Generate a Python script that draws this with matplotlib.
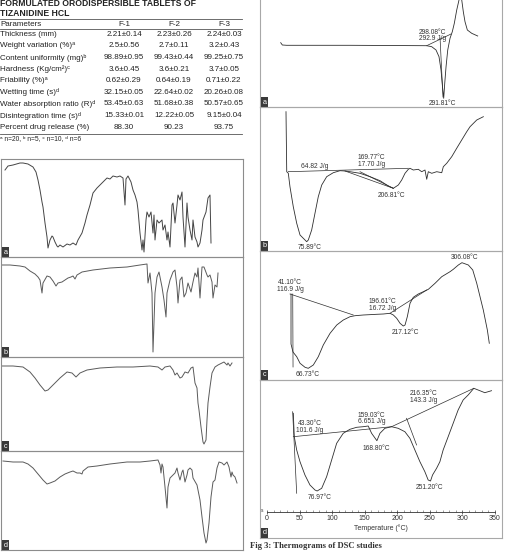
import matplotlib.pyplot as plt
from matplotlib.lines import Line2D

plt.rcParams["font.family"] = ["Liberation Sans", "DejaVu Sans"]

W, H = 505, 552

# ---------------- table data ----------------
table_title = ["FORMULATED ORODISPERSIBLE TABLETS OF", "TIZANIDINE HCL"]
columns = ["Parameters", "F-1", "F-2", "F-3"]
parameters = [
    "Thickness (mm)",
    "Weight variation (%)ᵃ",
    "Content uniformity (mg)ᵇ",
    "Hardness (Kg/cm²)ᶜ",
    "Friability (%)ᵃ",
    "Wetting time (s)ᵈ",
    "Water absorption ratio (R)ᵈ",
    "Disintegration time (s)ᵈ",
    "Percent drug release (%)",
]
f1 = ["2.21±0.14", "2.5±0.56", "98.89±0.95", "3.6±0.45", "0.62±0.29",
      "32.15±0.05", "53.45±0.63", "15.33±0.01", "88.30"]
f2 = ["2.23±0.26", "2.7±0.11", "99.43±0.44", "3.6±0.21", "0.64±0.19",
      "22.64±0.02", "51.68±0.38", "12.22±0.05", "90.23"]
f3 = ["2.24±0.03", "3.2±0.43", "99.25±0.75", "3.7±0.05", "0.71±0.22",
      "20.26±0.08", "50.57±0.65", "9.15±0.04", "93.75"]
footnote = "ᵃ n=20, ᵇ n=5, ᶜ n=10, ᵈ n=6"

# ---------------- IR spectra (position, transmittance, arbitrary units) ----------------
ir_a_x = [5, 8, 13, 20, 23, 28, 33, 36, 38, 40, 42, 43, 45, 47, 48, 50, 52, 53, 55, 57, 58, 60, 63,
          67, 70, 73, 76, 78, 82, 85, 87, 90, 93, 97, 100, 103, 107, 110, 113, 117, 120, 123, 125,
          126, 128, 131, 133, 135, 137, 138, 140, 142, 143, 144, 146, 147, 149, 151, 153, 154, 155,
          157, 159, 162, 163, 165, 167, 168, 170, 172, 173, 175, 177, 178, 180, 182, 183, 185, 187,
          188, 190, 192, 193, 195, 197, 198, 200, 202, 203, 206, 208, 210, 211]
ir_a_t = [87, 91, 92, 94, 94, 93, 90, 85, 77, 67, 55, 50, 34, 20, 9, 17, 21, 20, 15, 11, 10, 12, 10,
          13, 12, 14, 12, 17, 24, 34, 42, 52, 64, 69, 72, 75, 79, 78, 81, 80, 81, 79, 52,
          78, 81, 75, 67, 62, 55, 47, 24, 7, 17, 5, 37, 45, 40, 45, 24, 42, 17,
          37, 34, 37, 27, 32, 17, 25, 10, 52, 54, 34, 52, 62, 57, 65, 40, 10, 54,
          40, 27, 17, 37, 20, 15, 10, 14, 27, 37, 45, 59, 62, 14]

ir_b_x = [2, 10, 20, 25, 30, 35, 38, 40, 42, 43, 47, 50, 53, 56, 58, 62, 65, 68, 71, 73, 75, 77, 82,
          93, 110, 127, 140, 147, 148, 150, 152, 153, 155, 157, 159, 162, 164, 166, 167, 170, 173,
          175, 177, 178, 180, 182, 184, 186, 188, 191, 193, 195, 197, 198, 200, 202, 204, 207, 208,
          210, 212, 213, 215, 217, 218]
ir_b_t = [92, 92, 91, 90, 86, 83, 80, 77, 64, 74, 81, 80, 76, 71, 74, 75, 77, 79, 80, 81, 78, 82, 85,
          87, 89, 90, 92, 93, 74, 84, 64, 5, 64, 80, 85, 70, 57, 40, 64, 77, 85,
          87, 70, 54, 77, 80, 60, 64, 74, 65, 75, 84, 80, 89, 59, 90, 90, 82, 80,
          82, 75, 59, 72, 70, 84]

ir_c_x = [2, 13, 23, 30, 35, 40, 45, 48, 53, 60, 67, 72, 76, 80, 87, 100, 117, 133, 150, 158, 162,
          165, 170, 173, 175, 177, 180, 182, 185, 188, 191, 193, 194, 195, 197, 198, 199, 201, 203,
          204, 206, 207, 208, 210, 212, 215, 218, 222, 224, 227, 228, 230, 232]
ir_c_t = [85, 85, 84, 79, 73, 66, 60, 61, 66, 73, 79, 78, 74, 78, 81, 83, 84, 84, 85, 84, 81,
          84, 85, 81, 76, 78, 73, 74, 79, 78, 83, 84, 76, 68, 63, 48, 41, 24, 9,
          7, 11, 31, 48, 64, 78, 84, 86, 88, 89, 86, 88, 85, 88]

ir_d_x = [3, 13, 23, 28, 33, 38, 43, 47, 50, 55, 60, 65, 70, 73, 77, 80, 82, 83, 88, 97, 110, 127,
          140, 150, 158, 160, 161, 162, 163, 165, 167, 168, 170, 173, 175, 177, 178, 180, 182, 183,
          185, 187, 188, 190, 192, 193, 197, 200, 202, 204, 206, 207, 209, 211, 213, 215, 217, 219,
          222, 224, 227, 229, 231, 232, 233, 235, 237]
ir_d_t = [89, 88, 88, 86, 82, 76, 70, 66, 67, 69, 73, 76, 78, 79, 77, 77, 76, 79, 83, 84, 86, 88,
          88, 89, 90, 85, 77, 86, 83, 63, 42, 63, 72, 75, 77, 82, 77, 70, 78, 80,
          68, 75, 80, 82, 80, 72, 65, 50, 33, 17, 7, 10, 27, 53, 68, 70, 82, 88,
          87, 85, 88, 83, 73, 78, 75, 73, 67]

# ---------------- DSC thermograms (temperature in degC, heat flow a.u.) ----------------
dsc_a_temp = [41.6, 44.1, 50.8, 148.0, 265.7, 273.4, 280.0, 284.6, 287.7, 289.7, 291.8, 293.4,
              295.4, 298.0, 301.5, 305.0, 308.1, 311.8, 315.3, 317.4, 319.5, 321.9, 324.5, 328.1,
              334.8, 344.0]
dsc_a_heat = [64.3, 62.0, 61.7, 61.7, 61.3, 60.3, 57.0, 50.3, 37.0, 22.0, 8.7, 23.7,
              40.3, 57.0, 68.7, 75.3, 83.7, 97.0, 107.0, 114.0, 107.0, 95.3, 85.3, 77.0,
              73.7, 71.0]

dsc_b_temp = [44.6, 45.7, 48.1, 50.6, 55.6, 60.8, 65.8, 75.9, 78.3, 83.4, 88.4, 93.4, 98.6, 106.1,
              116.1, 126.2, 133.8, 141.3, 156.5, 171.6, 186.7, 199.2, 206.8, 214.4, 219.5, 224.5,
              229.5, 232.0, 237.0, 244.6, 249.7, 254.7, 257.3, 259.7, 264.9, 272.4, 280.0, 282.4,
              287.5, 295.1, 302.6, 310.2, 317.8, 322.8, 332.9, 342.9]
dsc_b_heat = [139.3, 79.3, 77.7, 64.3, 44.3, 27.7, 16.0, 9.3, 11.0, 21.0, 37.7, 54.3, 66.0, 74.3,
              78.3, 80.3, 80.0, 79.3, 77.7, 74.3, 70.3, 65.0, 62.7, 66.0, 71.0, 77.7,
              81.7, 82.7, 81.0, 81.7, 79.3, 81.0, 71.7, 79.3, 77.7, 79.3, 78.3, 84.3,
              87.7, 94.3, 102.7, 111.0, 119.3, 124.3, 131.0, 134.3]

dsc_c_temp = [39.4, 39.4, 42.5, 48.4, 53.7, 61.6, 66.7, 74.7, 82.6, 90.5, 101.2, 111.8, 122.2,
              132.8, 140.7, 153.9, 175.1, 185.5, 196.1, 201.4, 206.7, 212.0, 217.1, 219.9, 223.5,
              227.8, 233.0, 240.9, 248.9, 256.8, 267.4, 278.0, 291.1, 296.3, 304.3, 310.0, 320.1,
              327.1, 333.4, 343.8, 350.2, 353.3]
dsc_c_heat = [86.0, 36.0, 28.0, 23.3, 16.7, 12.7, 11.7, 15.0, 23.3, 35.0, 46.7, 55.0, 60.0,
              63.3, 64.3, 65.0, 65.7, 66.0, 66.7, 65.0, 61.7, 56.7, 54.0, 55.0, 63.3,
              76.7, 82.7, 86.0, 88.3, 90.7, 96.7, 103.3, 108.3, 110.7, 115.0, 117.3, 115.0,
              110.0, 96.7, 70.0, 50.0, 36.7]

dsc_d_temp = [40.4, 41.9, 45.6, 50.7, 58.3, 66.0, 73.7, 77.0, 84.0, 91.6, 99.3, 107.0, 117.1,
              127.4, 137.7, 147.8, 155.5, 160.7, 168.8, 173.5, 181.1, 191.4, 201.5, 211.8, 219.5,
              227.2, 234.9, 242.5, 247.6, 251.2, 254.3, 260.5, 265.6, 270.6, 278.3, 286.0, 293.6,
              301.3, 309.0, 317.7, 327.0, 334.6, 344.9]
dsc_d_heat = [126.7, 103.3, 90.0, 78.3, 65.0, 55.0, 50.0, 49.0, 51.7, 63.3, 80.0, 96.7, 106.7,
              110.7, 112.7, 113.3, 114.0, 106.7, 99.3, 106.7, 111.7, 113.3, 111.7, 108.3, 101.7,
              90.0, 78.3, 68.3, 60.0, 59.0, 65.0, 71.7, 78.3, 90.0, 103.3, 116.7, 130.0,
              140.0, 145.0, 151.7, 149.3, 147.3, 149.3]

# construction (baseline / tangent) lines: (temps, heats)
dsc_a_lines = [((265.7, 303.0), (61.3, 73.0)), ((286.2, 290.7), (69.0, 10.0))]
dsc_b_lines = [((48.1, 229.5), (79.3, 82.7)), ((133.8, 206.8), (80.0, 62.7)),
               ((156.5, 206.8), (79.3, 62.7))]
dsc_c_lines = [((37.8, 138.0), (86.0, 65.0)), ((42.1, 42.6), (86.0, 13.0)),
               ((196.1, 254.2), (66.7, 90.0))]
dsc_d_lines = [((40.4, 191.4), (103.3, 113.3)), ((191.4, 317.7), (113.3, 151.7)),
               ((39.4, 45.6), (128.3, 46.7)), ((214.4, 229.8), (121.7, 95.0))]

# annotations: (temp, heat, text)
dsc_a_notes = [(274.9, 71.5, "298.08°C\n292.9 J/g"), (290.3, 3.7, "291.81°C")]
dsc_b_notes = [(88.4, 85.0, "64.82 J/g"), (174.1, 90.0, "169.77°C\n17.70 J/g"),
               (204.4, 55.3, "206.81°C"), (80.9, 3.7, "75.89°C")]
dsc_c_notes = [(37.8, 94.0, "41.10°C\n116.9 J/g"), (184.6, 75.0, "196.61°C\n16.72 J/g"),
               (219.9, 47.7, "217.12°C"), (65.2, 6.0, "66.73°C"), (314.9, 122.3, "306.08°C")]
dsc_d_notes = [(239.9, 143.3, "216.35°C\n143.3 J/g"), (66.0, 112.7, "43.30°C\n101.6 J/g"),
               (160.7, 121.5, "159.03°C\n6.651 J/g"), (168.4, 91.7, "168.80°C"),
               (80.3, 42.7, "76.97°C"), (249.1, 52.7, "251.20°C")]

temp_ticks = [0, 50, 100, 150, 200, 250, 300, 350]


def px_axes(fig, x0, y0, x1, y1):
    return fig.add_axes([x0 / W, 1 - y1 / H, (x1 - x0) / W, (y1 - y0) / H])


def fx(px):
    return px / W


def fy(py):
    return 1 - py / H


def panel_label(ax, letter):
    ax.text(0.012, 0.012, letter, transform=ax.transAxes, ha="left", va="bottom",
            color="white", fontsize=5.2,
            bbox=dict(boxstyle="square,pad=0.2", fc="#3a3a3a", ec="none"))


def frame(ax, color, top=True):
    ax.set_xticks([])
    ax.set_yticks([])
    ax.patch.set_alpha(0)
    for name, sp in ax.spines.items():
        sp.set_color(color)
        sp.set_linewidth(0.8)
    ax.spines["top"].set_visible(top)


fig = plt.figure(figsize=(W / 100, H / 100), dpi=100)

# ---------------- table ----------------
fig.text(fx(0), fy(4), table_title[0], fontsize=6.2, fontweight="bold", ha="left", va="center",
         color="#222222")
fig.text(fx(0), fy(13.5), table_title[1], fontsize=6.2, fontweight="bold", ha="left", va="center",
         color="#222222")
col_x = [0, 124, 174, 224]
for i, name in enumerate(columns):
    fig.text(fx(col_x[i]), fy(24), name, fontsize=5.8, ha="left" if i == 0 else "center",
             va="center", color="#222222")
for r, name in enumerate(parameters):
    y = 34.3 + r * 11.6
    fig.text(fx(0), fy(y), name, fontsize=5.8, ha="left", va="center", color="#222222")
    for c, vals in enumerate([f1, f2, f3]):
        fig.text(fx(col_x[c + 1]), fy(y), vals[r], fontsize=5.8, ha="center", va="center",
                 color="#222222")
for y in [19, 29, 134]:
    fig.add_artist(Line2D([fx(0), fx(242)], [fy(y), fy(y)], color="#555555", lw=0.6))
fig.text(fx(0), fy(139), footnote, fontsize=4.8, ha="left", va="center", color="#222222")

# ---------------- IR spectra ----------------
ir_panels = [
    ((1, 159, 243, 257), ir_a_x, ir_a_t, "a"),
    ((1, 257, 243, 357), ir_b_x, ir_b_t, "b"),
    ((1, 357, 243, 451), ir_c_x, ir_c_t, "c"),
    ((1, 451, 243, 550), ir_d_x, ir_d_t, "d"),
]
for (x0, y0, x1, y1), xs, ts, letter in ir_panels:
    ax = px_axes(fig, x0, y0, x1, y1)
    ax.plot(xs, ts, color="#5a5a5a" if letter != "a" else "#444444", lw=0.7)
    ax.set_xlim(x0, x1)
    ax.set_ylim(0, y1 - y0)
    frame(ax, "#8c8c8c")
    panel_label(ax, letter)

# ---------------- DSC thermograms ----------------
dsc_panels = [
    ((260, 0, 502, 107), (9.8, 381.3), (0, 107), dsc_a_temp, dsc_a_heat, dsc_a_lines, dsc_a_notes, "a"),
    ((260, 107, 502, 251), (5.3, 371.1), (0, 144), dsc_b_temp, dsc_b_heat, dsc_b_lines, dsc_b_notes, "b"),
    ((260, 251, 502, 380), (-9.7, 373.4), (0, 129), dsc_c_temp, dsc_c_heat, dsc_c_lines, dsc_c_notes, "c"),
    ((260, 380, 502, 538), (-10.75, 361.0), (2, 160), dsc_d_temp, dsc_d_heat, dsc_d_lines, dsc_d_notes, "d"),
]
for box, xlim, ylim, temps, heats, lines, notes, letter in dsc_panels:
    ax = px_axes(fig, *box)
    ax.plot(temps, heats, color="#2e2e2e", lw=0.6)
    for lt, lh in lines:
        ax.plot(lt, lh, color="#2e2e2e", lw=0.5)
    for t, h, s in notes:
        ax.text(t, h, s, fontsize=4.8, ha="center", va="center", color="#333333",
                linespacing=0.95)
    ax.set_xlim(*xlim)
    ax.set_ylim(*ylim)
    frame(ax, "#a8a8a8", top=(letter != "a"))
    panel_label(ax, letter)

# temperature axis inside panel d
ax_t = px_axes(fig, 260, 511, 502, 512)
ax_t.set_xlim(-10.75, 361.0)
ax_t.set_yticks([])
ax_t.patch.set_alpha(0)
for name in ["top", "left", "right"]:
    ax_t.spines[name].set_visible(False)
ax_t.spines["bottom"].set_bounds(0, 350)
ax_t.spines["bottom"].set_color("#333333")
ax_t.spines["bottom"].set_linewidth(0.6)
ax_t.set_xticks(temp_ticks)
ax_t.set_xticks(range(0, 351, 10), minor=True)
ax_t.tick_params(axis="x", which="major", direction="inout", length=3, width=0.5,
                 labelsize=5, pad=1, colors="#333333")
ax_t.tick_params(axis="x", which="minor", direction="in", length=1.2, width=0.4,
                 colors="#555555")
ax_t.set_xlabel("Temperature (°C)", fontsize=5, labelpad=1.5, color="#333333")
fig.text(fx(262), fy(511), "s", fontsize=3.5, ha="center", va="center", color="#333333")

fig.text(fx(250), fy(546), "Fig 3: Thermograms of DSC studies", fontsize=6.2,
         family=["Liberation Serif", "DejaVu Serif"], fontweight="bold", ha="left", va="center",
         color="#333333")

fig.savefig("out.png", dpi=100)
